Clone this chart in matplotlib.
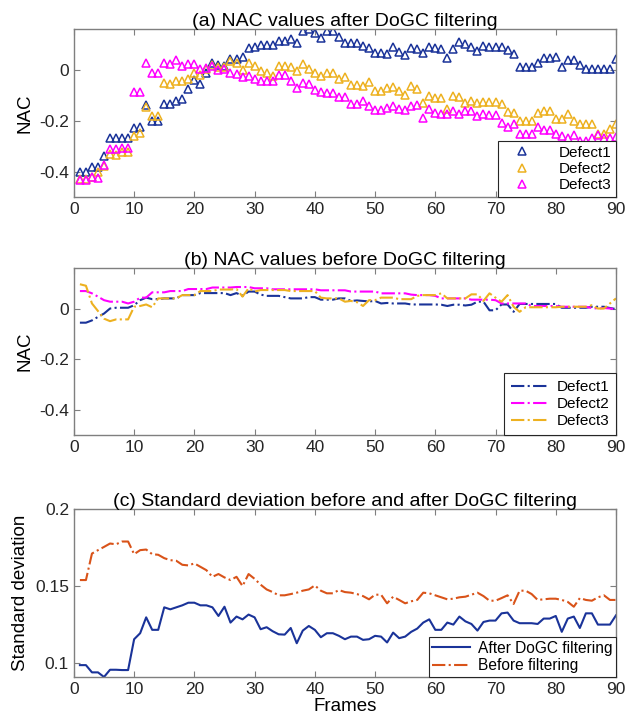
import matplotlib
matplotlib.use("Agg")
import matplotlib.pyplot as plt
import numpy as np

plt.rcParams['font.family'] = ['Liberation Sans', 'DejaVu Sans']
plt.rcParams['axes.unicode_minus'] = False

frames = np.arange(1, 91)

# (a) NAC after DoGC filtering
nac_after_d1 = [-0.40, -0.40, -0.383, -0.383, -0.34, -0.267, -0.27, -0.27, -0.27, -0.23,
                -0.225, -0.14, -0.20, -0.20, -0.135, -0.135, -0.123, -0.115, -0.077, -0.04,
                -0.057, -0.012, 0.027, 0.017, 0.014, 0.043, 0.043, 0.05, 0.085, 0.088,
                0.098, 0.098, 0.098, 0.114, 0.114, 0.119, 0.103, 0.153, 0.158, 0.145,
                0.124, 0.153, 0.153, 0.13, 0.106, 0.103, 0.103, 0.093, 0.085, 0.067,
                0.064, 0.061, 0.088, 0.069, 0.059, 0.085, 0.082, 0.067, 0.09, 0.085,
                0.08, 0.046, 0.082, 0.107, 0.10, 0.09, 0.075, 0.095, 0.088, 0.088,
                0.09, 0.077, 0.061, 0.009, 0.009, 0.009, 0.027, 0.046, 0.046, 0.048,
                0.009, 0.04, 0.04, 0.02, 0.001, 0.001, 0.001, 0.001, 0.001, 0.043]
nac_after_d2 = [-0.43, -0.43, -0.42, -0.40, -0.38, -0.33, -0.337, -0.324, -0.324, -0.26,
                -0.247, -0.148, -0.18, -0.18, -0.054, -0.056, -0.043, -0.046, -0.035, -0.012,
                -0.022, 0.004, 0.017, 0.009, 0.009, 0.033, 0.027, -0.001, 0.025, 0.014,
                -0.004, -0.012, -0.025, 0.014, 0.014, 0.009, -0.007, 0.022, 0.001, -0.012,
                -0.025, -0.014, -0.014, -0.035, -0.03, -0.059, -0.059, -0.064, -0.048, -0.085,
                -0.085, -0.072, -0.067, -0.082, -0.098, -0.064, -0.077, -0.13, -0.103, -0.111,
                -0.111, -0.153, -0.103, -0.106, -0.132, -0.124, -0.132, -0.127, -0.127, -0.127,
                -0.135, -0.166, -0.171, -0.20, -0.20, -0.20, -0.171, -0.163, -0.163, -0.192,
                -0.192, -0.176, -0.203, -0.213, -0.213, -0.213, -0.252, -0.252, -0.234, -0.213]
nac_after_d3 = [-0.435, -0.435, -0.422, -0.425, -0.375, -0.312, -0.312, -0.307, -0.307, -0.089,
                -0.086, 0.025, -0.012, -0.012, 0.027, 0.022, 0.04, 0.014, 0.022, 0.022,
                0.004, 0.007, 0.014, -0.001, 0.001, -0.014, -0.017, -0.03, -0.025, -0.035,
                -0.043, -0.046, -0.046, -0.022, -0.02, -0.043, -0.072, -0.051, -0.056, -0.08,
                -0.088, -0.093, -0.09, -0.106, -0.108, -0.135, -0.135, -0.122, -0.142, -0.158,
                -0.158, -0.15, -0.142, -0.153, -0.158, -0.142, -0.137, -0.19, -0.156, -0.171,
                -0.174, -0.176, -0.163, -0.176, -0.163, -0.163, -0.182, -0.174, -0.179, -0.179,
                -0.208, -0.226, -0.213, -0.252, -0.252, -0.252, -0.226, -0.237, -0.237, -0.252,
                -0.26, -0.27, -0.255, -0.28, -0.28, -0.27, -0.255, -0.27, -0.27, -0.263]

# (b) NAC before DoGC filtering
nac_before_d1 = [-0.056, -0.056, -0.047, -0.033, -0.02, 0.0, 0.003, 0.003, 0.003, 0.013,
                 0.033, 0.043, 0.037, 0.037, 0.04, 0.04, 0.04, 0.053, 0.053, 0.053,
                 0.061, 0.061, 0.061, 0.061, 0.061, 0.053, 0.061, 0.05, 0.067, 0.067,
                 0.055, 0.05, 0.05, 0.05, 0.045, 0.04, 0.04, 0.04, 0.045, 0.045,
                 0.035, 0.035, 0.035, 0.04, 0.04, 0.03, 0.032, 0.03, 0.028, 0.03,
                 0.02, 0.022, 0.02, 0.02, 0.02, 0.016, 0.016, 0.016, 0.016, 0.016,
                 0.015, 0.01, 0.015, 0.015, 0.012, 0.015, 0.027, 0.027, -0.007, -0.007,
                 0.016, 0.016, -0.013, 0.018, 0.018, 0.018, 0.018, 0.018, 0.018, 0.018,
                 0.003, 0.003, 0.003, 0.003, 0.003, 0.007, 0.007, 0.007, 0.002, -0.002]
nac_before_d2 = [0.069, 0.069, 0.06, 0.047, 0.033, 0.027, 0.027, 0.027, 0.02, 0.027,
                 0.043, 0.043, 0.064, 0.064, 0.064, 0.069, 0.069, 0.069, 0.077, 0.077,
                 0.077, 0.077, 0.083, 0.083, 0.083, 0.083, 0.085, 0.085, 0.085, 0.08,
                 0.08, 0.08, 0.076, 0.076, 0.076, 0.076, 0.076, 0.076, 0.076, 0.076,
                 0.072, 0.072, 0.072, 0.072, 0.072, 0.067, 0.067, 0.067, 0.067, 0.067,
                 0.06, 0.06, 0.06, 0.06, 0.06, 0.055, 0.053, 0.053, 0.053, 0.05,
                 0.04, 0.04, 0.04, 0.04, 0.04, 0.035, 0.035, 0.035, 0.035, 0.033,
                 0.02, 0.02, 0.02, 0.02, 0.02, 0.01, 0.01, 0.01, 0.01, 0.01,
                 0.007, 0.007, 0.007, 0.007, 0.007, 0.002, 0.0, 0.002, 0.0, -0.003]
nac_before_d3 = [0.096, 0.09, 0.02, -0.01, -0.04, -0.05, -0.043, -0.043, -0.043, 0.007,
                 0.01, 0.016, 0.005, 0.04, 0.04, 0.04, 0.04, 0.053, 0.053, 0.053,
                 0.069, 0.069, 0.069, 0.075, 0.075, 0.075, 0.077, 0.047, 0.08, 0.067,
                 0.073, 0.073, 0.073, 0.073, 0.073, 0.069, 0.069, 0.069, 0.069, 0.069,
                 0.043, 0.04, 0.04, 0.04, 0.027, 0.03, 0.025, 0.01, 0.033, 0.033,
                 0.043, 0.043, 0.043, 0.037, 0.037, 0.037, 0.05, 0.053, 0.053, 0.053,
                 0.06, 0.04, 0.04, 0.04, 0.04, 0.056, 0.056, 0.03, 0.06, 0.043,
                 0.027, 0.053, 0.007, -0.013, 0.005, 0.005, 0.005, 0.005, 0.005, 0.005,
                 0.007, 0.007, 0.007, 0.007, 0.007, 0.013, 0.0, 0.0, 0.02, 0.04]

# (c) standard deviation across defects
std_after = [0.0987, 0.0987, 0.094, 0.094, 0.091, 0.0957, 0.0957, 0.0955, 0.0955, 0.1155,
             0.1194, 0.1297, 0.1216, 0.1216, 0.1362, 0.1349, 0.1362, 0.1375, 0.1392, 0.1392,
             0.1375, 0.1375, 0.1362, 0.1306, 0.1366, 0.1263, 0.1302, 0.1284, 0.1315, 0.1297,
             0.122, 0.1233, 0.1207, 0.1187, 0.1185, 0.1228, 0.1129, 0.1211, 0.1241, 0.1216,
             0.1168, 0.1194, 0.1194, 0.1177, 0.1155, 0.1172, 0.1172, 0.1151, 0.1155, 0.1177,
             0.1172, 0.1134, 0.1198, 0.1162, 0.1172, 0.1203, 0.1224, 0.1263, 0.1284, 0.1216,
             0.1216, 0.1263, 0.125, 0.1302, 0.1271, 0.1254, 0.1211, 0.1267, 0.1276, 0.1276,
             0.1323, 0.1328, 0.1276, 0.1259, 0.1259, 0.1259, 0.1254, 0.1289, 0.1289, 0.1306,
             0.1203, 0.1289, 0.1302, 0.1228, 0.1323, 0.1323, 0.125, 0.125, 0.125, 0.131]
std_before = [0.1539, 0.1539, 0.1711, 0.1733, 0.1754, 0.1776, 0.1771, 0.1789, 0.1789, 0.1707,
              0.1733, 0.1737, 0.1707, 0.1703, 0.1681, 0.1668, 0.1664, 0.1638, 0.1634, 0.1647,
              0.1625, 0.1603, 0.156, 0.1578, 0.1556, 0.1539, 0.156, 0.15, 0.1578, 0.1547,
              0.1509, 0.1478, 0.1461, 0.144, 0.144, 0.1448, 0.1457, 0.147, 0.1478, 0.1504,
              0.147, 0.1453, 0.1453, 0.1474, 0.1461, 0.1457, 0.1448, 0.1435, 0.1414, 0.1444,
              0.1444, 0.1388, 0.1431, 0.141, 0.1388, 0.1401, 0.141, 0.1457, 0.1453, 0.144,
              0.1427, 0.1414, 0.1418, 0.1427, 0.1431, 0.1444, 0.1457, 0.1435, 0.1405, 0.1405,
              0.1422, 0.144, 0.1384, 0.147, 0.147, 0.1448, 0.141, 0.1414, 0.1418, 0.1418,
              0.141, 0.1397, 0.1366, 0.1422, 0.141, 0.1405, 0.1427, 0.144, 0.141, 0.141]

c_blue = '#1a3399'
c_gold = '#EDB120'
c_mag = '#FF00FF'
c_red = '#D95319'
frame_col = '#7f7f7f'


def style_axes(ax):
    for s in ax.spines.values():
        s.set_color(frame_col)
        s.set_linewidth(1.0)
    ax.tick_params(direction='in', top=True, right=True, length=4,
                   color=frame_col, labelsize=12.5, labelcolor='#262626')
    ax.set_xlim(0, 90)
    ax.set_xticks(np.arange(0, 91, 10))


def style_legend(leg):
    fr = leg.get_frame()
    fr.set_boxstyle('square', pad=0)
    fr.set_edgecolor('#262626')
    fr.set_linewidth(0.8)
    fr.set_alpha(1)


fig = plt.figure(figsize=(6.37, 7.26), dpi=100)
ax1 = fig.add_axes([0.116, 0.7287, 0.851, 0.2314])
ax2 = fig.add_axes([0.116, 0.4008, 0.851, 0.2300])
ax3 = fig.add_axes([0.116, 0.0675, 0.851, 0.2314])

mk = dict(marker='^', linestyle='none', markerfacecolor='none', markersize=6, markeredgewidth=1.1)
ax1.plot(frames, nac_after_d1, color=c_blue, label='Defect1', **mk)
ax1.plot(frames, nac_after_d2, color=c_gold, label='Defect2', **mk)
ax1.plot(frames, nac_after_d3, color=c_mag, label='Defect3', **mk)
style_axes(ax1)
ax1.set_ylim(-0.5, 0.16)
ax1.set_yticks([-0.4, -0.2, 0])
ax1.set_yticklabels(['-0.4', '-0.2', '0'])
ax1.set_ylabel('NAC', fontsize=13.5, labelpad=4)
ax1.set_title('(a) NAC values after DoGC filtering', fontsize=14, pad=2)
leg = ax1.legend(loc='lower right', fontsize=11, handletextpad=1.1, borderaxespad=0,
                 fancybox=False, labelspacing=0.15, borderpad=0.3, handlelength=2.6)
style_legend(leg)

ls = dict(linestyle='-.', linewidth=1.5)
ax2.plot(frames, nac_before_d1, color=c_blue, label='Defect1', **ls)
ax2.plot(frames, nac_before_d2, color=c_mag, label='Defect2', **ls)
ax2.plot(frames, nac_before_d3, color=c_gold, label='Defect3', **ls)
style_axes(ax2)
ax2.set_ylim(-0.5, 0.16)
ax2.set_yticks([-0.4, -0.2, 0])
ax2.set_yticklabels(['-0.4', '-0.2', '0'])
ax2.set_ylabel('NAC', fontsize=13.5, labelpad=4)
ax2.set_title('(b) NAC values before DoGC filtering', fontsize=14, pad=2)
leg = ax2.legend(loc='lower right', fontsize=11, handletextpad=0.5, borderaxespad=0,
                 fancybox=False, labelspacing=0.2, borderpad=0.45, handlelength=2.5)
style_legend(leg)

ax3.plot(frames, std_after, color=c_blue, linewidth=1.5, label='After DoGC filtering')
ax3.plot(frames, std_before, color=c_red, linewidth=1.5, linestyle='-.', label='Before filtering')
style_axes(ax3)
ax3.set_ylim(0.091, 0.2)
ax3.set_yticks([0.1, 0.15, 0.2])
ax3.set_yticklabels(['0.1', '0.15', '0.2'])
ax3.set_ylabel('Standard deviation', fontsize=13.5, labelpad=4)
ax3.set_xlabel('Frames', fontsize=13.5, labelpad=1)
ax3.set_title('(c) Standard deviation before and after DoGC filtering', fontsize=14, pad=2)
leg = ax3.legend(loc='lower right', fontsize=11.2, handletextpad=0.5, borderaxespad=0,
                 fancybox=False, labelspacing=0.15, borderpad=0.25, handlelength=2.4)
style_legend(leg)

fig.savefig('out.png', dpi=100)
